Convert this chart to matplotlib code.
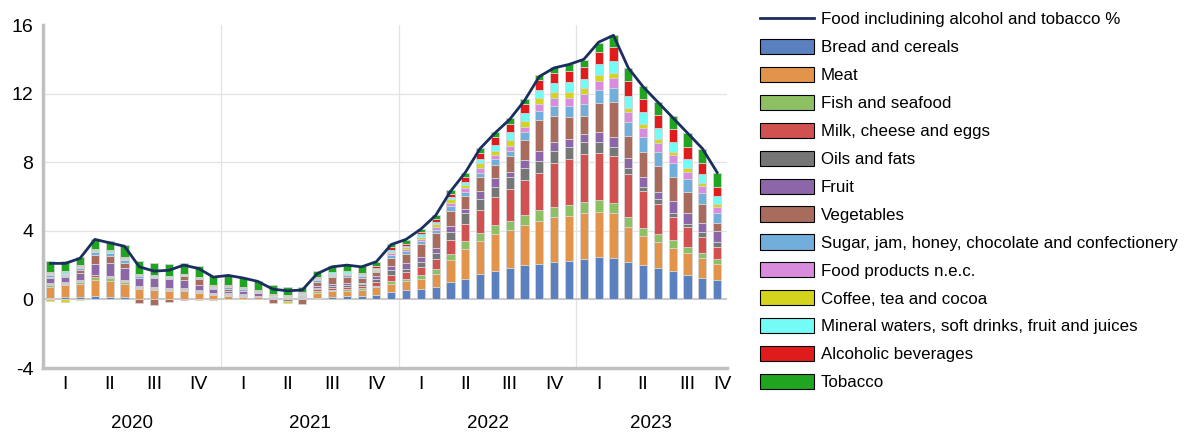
import numpy as np
import matplotlib
matplotlib.use('Agg')
from matplotlib import pyplot as plt
from matplotlib.patches import Patch
from matplotlib.lines import Line2D

plt.rcParams['font.family'] = ['Liberation Sans', 'DejaVu Sans']
plt.rcParams['axes.unicode_minus'] = False

# monthly data, Jan 2020 .. Oct 2023 (percentage-point contributions)
total = [2.1, 2.1, 2.4, 3.5, 3.3, 3.1, 1.9, 1.65, 1.7, 2.0, 1.8, 1.3,
         1.4, 1.25, 1.05, 0.6, 0.5, 0.55, 1.5, 1.9, 2.0, 1.9, 2.2, 3.2,
         3.5, 4.1, 4.9, 6.3, 7.4, 8.8, 9.7, 10.5, 11.6, 13.0, 13.5, 13.7,
         14.0, 15.0, 15.4, 13.5, 12.4, 11.5, 10.6, 9.7, 8.8, 7.4]

bread = [0.10, 0.12, 0.12, 0.22, 0.15, 0.15, 0.02, 0.02, 0.02, 0.02, 0.02, 0.02,
         0.02, 0.02, 0.02, 0.01, 0.01, 0.02, 0.10, 0.14, 0.20, 0.22, 0.28, 0.43,
         0.53, 0.58, 0.72, 1.01, 1.21, 1.46, 1.66, 1.83, 2.00, 2.09, 2.18, 2.24,
         2.38, 2.48, 2.44, 2.18, 2.03, 1.85, 1.66, 1.40, 1.27, 1.11]
meat = [0.65, 0.70, 0.80, 0.90, 0.95, 0.75, 0.60, 0.55, 0.50, 0.45, 0.35, 0.25,
        0.20, 0.15, 0.10, 0.02, 0.02, 0.05, 0.30, 0.35, 0.30, 0.35, 0.42, 0.49,
        0.54, 0.63, 0.78, 1.31, 1.75, 1.95, 2.14, 2.24, 2.33, 2.49, 2.63, 2.63,
        2.63, 2.63, 2.57, 2.05, 1.67, 1.50, 1.36, 1.31, 1.17, 0.98]
fish = [0.08, 0.05, 0.10, 0.20, 0.15, 0.12, 0.05, 0.05, 0.05, 0.10, 0.08, 0.05,
        0.05, 0.05, 0.03, 0.02, 0.01, 0.02, 0.08, 0.08, 0.08, 0.08, 0.10, 0.16,
        0.14, 0.23, 0.29, 0.35, 0.43, 0.47, 0.53, 0.51, 0.58, 0.62, 0.58, 0.63,
        0.68, 0.68, 0.62, 0.58, 0.49, 0.45, 0.43, 0.35, 0.29, 0.29]
milk = [0.05, 0.08, 0.08, 0.08, 0.08, 0.08, 0.05, 0.05, 0.05, 0.05, 0.05, -0.05,
        0.05, 0.05, 0.05, 0.02, 0.02, 0.05, 0.10, 0.12, 0.15, 0.15, 0.23, 0.33,
        0.39, 0.45, 0.59, 0.78, 1.03, 1.32, 1.62, 1.87, 2.05, 2.20, 2.59, 2.67,
        2.77, 2.77, 2.73, 2.48, 2.15, 1.79, 1.33, 1.17, 0.92, 0.68]
oils = [0.05, 0.05, 0.05, 0.05, 0.05, 0.05, 0.05, 0.05, 0.05, 0.05, 0.05, 0.03,
        0.05, 0.05, 0.02, 0.02, 0.03, 0.05, 0.10, 0.12, 0.12, 0.12, 0.15, 0.30,
        0.19, 0.29, 0.33, 0.49, 0.59, 0.63, 0.62, 0.67, 0.68, 0.66, 0.66, 0.74,
        0.70, 0.64, 0.55, 0.35, 0.23, 0.24, 0.23, 0.19, 0.29, 0.29]
fruit = [0.30, 0.30, 0.40, 0.60, 0.75, 0.70, 0.50, 0.50, 0.50, 0.45, 0.30, 0.25,
         0.15, 0.15, 0.15, 0.03, 0.02, 0.05, 0.08, 0.08, 0.08, 0.06, 0.20, 0.23,
         0.35, 0.30, 0.31, 0.33, 0.29, 0.51, 0.49, 0.33, 0.49, 0.58, 0.55, 0.45,
         0.47, 0.55, 0.58, 0.59, 0.55, 0.45, 0.74, 0.63, 0.54, 0.63]
veg = [0.10, 0.05, 0.15, 0.55, 0.40, 0.30, -0.20, -0.35, -0.15, 0.25, 0.35, 0.08,
       0.10, 0.05, 0.03, -0.20, -0.10, -0.25, 0.25, 0.40, 0.40, 0.25, 0.20, 0.45,
       0.53, 0.74, 0.86, 0.90, 0.72, 0.78, 0.78, 0.91, 1.17, 1.81, 1.52, 1.30,
       1.09, 1.69, 2.01, 1.32, 1.50, 1.50, 1.40, 1.23, 1.06, 0.48]
sugar = [0.10, 0.10, 0.15, 0.15, 0.15, 0.15, 0.10, 0.10, 0.10, 0.05, 0.05, 0.05,
         0.10, 0.10, 0.05, 0.05, 0.05, 0.05, 0.10, 0.10, 0.12, 0.12, 0.10, 0.20,
         0.16, 0.17, 0.19, 0.27, 0.26, 0.27, 0.33, 0.31, 0.45, 0.53, 0.59, 0.59,
         0.66, 0.78, 0.82, 0.82, 0.83, 0.84, 0.78, 0.72, 0.64, 0.59]
food_nec = [0.05, 0.05, 0.05, 0.05, 0.05, 0.05, 0.03, 0.03, 0.03, 0.03, 0.03, 0.03,
            0.05, 0.03, 0.03, 0.03, 0.02, 0.03, 0.05, 0.05, 0.05, 0.05, 0.05, 0.10,
            0.11, 0.14, 0.16, 0.19, 0.19, 0.25, 0.25, 0.28, 0.33, 0.39, 0.42, 0.48,
            0.59, 0.53, 0.58, 0.55, 0.53, 0.52, 0.49, 0.45, 0.43, 0.35]
coffee = [-0.10, -0.15, -0.05, 0.03, 0.00, 0.02, 0.02, 0.02, 0.02, 0.02, -0.05, 0.02,
          0.02, 0.02, 0.02, 0.02, -0.12, 0.02, 0.03, 0.03, 0.03, 0.03, 0.05, 0.10,
          0.12, 0.12, 0.16, 0.20, 0.20, 0.29, 0.26, 0.35, 0.35, 0.35, 0.36, 0.36,
          0.35, 0.31, 0.30, 0.27, 0.25, 0.20, 0.20, 0.19, 0.15, 0.14]
mineral = [0.05, 0.10, 0.05, 0.05, 0.10, 0.05, 0.03, 0.03, 0.03, 0.02, 0.02, 0.02,
           0.02, 0.02, 0.02, 0.05, 0.05, 0.05, 0.08, 0.10, 0.10, 0.06, 0.08, 0.10,
           0.08, 0.15, 0.11, 0.15, 0.19, 0.24, 0.33, 0.49, 0.43, 0.49, 0.52, 0.58,
           0.55, 0.66, 0.72, 0.70, 0.67, 0.68, 0.58, 0.55, 0.55, 0.48]
alcohol = [0.08, 0.08, 0.05, 0.05, 0.05, 0.05, 0.05, 0.05, 0.03, -0.05, 0.03, 0.03,
           0.05, 0.03, 0.03, 0.02, 0.02, 0.05, 0.05, 0.05, 0.05, 0.05, 0.08, 0.14,
           0.12, 0.14, 0.16, 0.14, 0.26, 0.35, 0.44, 0.44, 0.52, 0.58, 0.59, 0.62,
           0.66, 0.71, 0.78, 0.86, 0.78, 0.74, 0.72, 0.68, 0.62, 0.51]
tobacco = [0.65, 0.55, 0.50, 0.60, 0.55, 0.70, 0.75, 0.70, 0.70, 0.65, 0.60, 0.55,
           0.55, 0.55, 0.55, 0.53, 0.45, 0.30, 0.33, 0.33, 0.30, 0.38, 0.22, 0.21,
           0.19, 0.19, 0.25, 0.25, 0.27, 0.29, 0.34, 0.34, 0.30, 0.30, 0.39, 0.43,
           0.45, 0.52, 0.70, 0.74, 0.78, 0.78, 0.78, 0.82, 0.84, 0.82]

series = [bread, meat, fish, milk, oils, fruit, veg, sugar, food_nec,
          coffee, mineral, alcohol, tobacco]
labels = ['Bread and cereals', 'Meat', 'Fish and seafood', 'Milk, cheese and eggs',
          'Oils and fats', 'Fruit', 'Vegetables',
          'Sugar, jam, honey, chocolate and confectionery', 'Food products n.e.c.',
          'Coffee, tea and cocoa', 'Mineral waters, soft drinks, fruit and juices',
          'Alcoholic beverages', 'Tobacco']
colors = ['#5A80C0', '#E3944B', '#8DC063', '#D15151', '#767676', '#8C66A8',
          '#A86B5C', '#71AEDC', '#D98BDD', '#D4D41E', '#73FBF5', '#E01B1B', '#1FA51F']

quarters = ['I', 'II', 'III', 'IV']
years = ['2020', '2021', '2022', '2023']

x = np.arange(len(total))

fig = plt.figure(figsize=(11.88, 4.32), dpi=100)
ax = fig.add_axes([0.0362, 0.1481, 0.5756, 0.794])

# stacked bars, positives and negatives stacked separately
pos_bot = np.zeros(len(x))
neg_bot = np.zeros(len(x))
for vals, c in zip(series, colors):
    v = np.asarray(vals, dtype=float)
    bot = np.where(v >= 0, pos_bot, neg_bot)
    ax.bar(x, v, bottom=bot, width=0.55, color=c, edgecolor='#d4d4d4',
           linewidth=0.6, zorder=3)
    pos_bot += np.where(v >= 0, v, 0)
    neg_bot += np.where(v < 0, v, 0)

ax.plot(x, total, color='#1B2F5E', lw=2.0, zorder=4)

ax.set_xlim(-0.5, 45.65)
ax.set_ylim(-4, 16)
ax.set_yticks([-4, 0, 4, 8, 12, 16])
ax.tick_params(axis='y', length=0, labelsize=14, pad=7)
ax.set_xticks([])
for y in [4, 8, 12]:
    ax.axhline(y, color='#e3e3e3', lw=0.9, zorder=0)
for xb in [11.5, 23.5, 35.5]:
    ax.axvline(xb, color='#e3e3e3', lw=0.9, zorder=0)
ax.axhline(0, color='#c4c4c4', lw=1.3, zorder=2)

for s in ['top', 'right']:
    ax.spines[s].set_visible(False)
for s in ['left', 'bottom']:
    ax.spines[s].set_color('#c0c0c0')
    ax.spines[s].set_linewidth(2.5)

# quarter and year labels
tr = ax.get_xaxis_transform()
qpos = [1, 4, 7, 10, 13, 16, 19, 22, 25, 28, 31, 34, 37, 40, 43, 45.35]
for i, p in enumerate(qpos):
    ax.text(p, -0.047, quarters[i % 4], transform=tr, ha='center', va='center',
            fontsize=14)
for p, yr in zip([5.5, 17.5, 29.5, 40.5], years):
    ax.text(p, -0.163, yr, transform=tr, ha='center', va='center', fontsize=13.5)

handles = [Line2D([0], [0], color='#1B2F5E', lw=2.0)]
handles += [Patch(facecolor=c, edgecolor='black', linewidth=0.8) for c in colors]
fig.legend(handles, ['Food includining alcohol and tobacco %'] + labels,
           loc='upper left', bbox_to_anchor=(0.634, 0.99), frameon=False,
           fontsize=12.2, handlelength=3.2, handleheight=1.0, handletextpad=0.4,
           labelspacing=0.68, borderaxespad=0)

fig.savefig('out.png', dpi=100)
